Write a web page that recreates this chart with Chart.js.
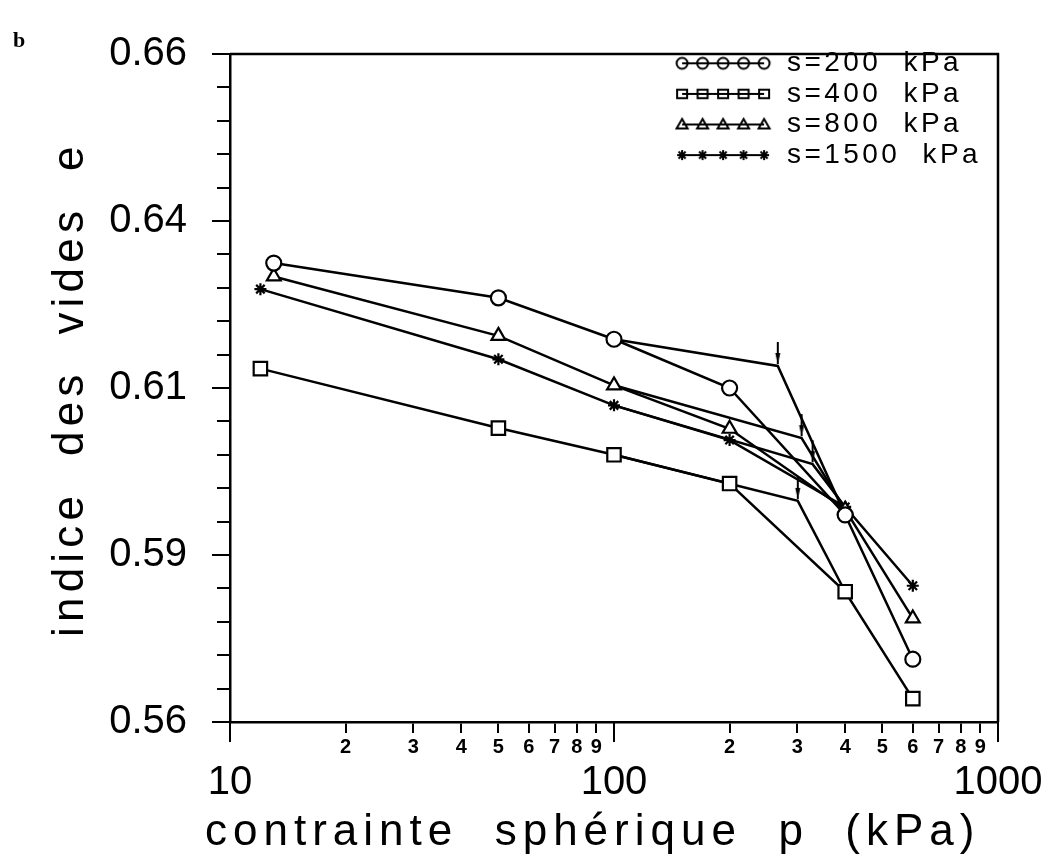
<!DOCTYPE html>
<html>
<head>
<meta charset="utf-8">
<script src="https://cdn.jsdelivr.net/npm/chart.js"></script>
<style>
  body { margin: 0; background: #fff; }
  canvas { display: block; }
</style>
</head>
<body>
<canvas id="myChart" width="1054" height="855"></canvas>
<script>
// values: p (kPa) and e for each suction s
var pS200 = [13, 50, 100, 200, 400, 600];
var eS200 = [0.6287, 0.6235, 0.6173, 0.6100, 0.5910, 0.5694];
var pS400 = [12, 50, 100, 200, 400, 600];
var eS400 = [0.6129, 0.6040, 0.6000, 0.5957, 0.5795, 0.5635];
var pS800 = [13, 50, 100, 200, 400, 600];
var eS800 = [0.6267, 0.6178, 0.6104, 0.6039, 0.5918, 0.5755];
var pS1500 = [12, 50, 100, 200, 400, 600];
var eS1500 = [0.6248, 0.6143, 0.6074, 0.6022, 0.5922, 0.5804];

// yield points (arrows), same order s=200, 400, 800, 1500
var yieldP = [267, 301, 308, 329];
var yieldE = [0.6133, 0.5931, 0.6025, 0.5986];

var seriesLabels = ['s=200  kPa', 's=400  kPa', 's=800  kPa', 's=1500  kPa'];
var seriesStyles = ['circle', 'rect', 'triangle', 'star'];

var yTickLabels = ['0.56', '0.59', '0.61', '0.64', '0.66'];
var yMajor = [0.56, 0.585, 0.61, 0.635, 0.66];
var xMajor = [10, 100, 1000];
var xDecadeLabels = ['10', '100', '1000'];
var xDigitLabels = ['2', '3', '4', '5', '6', '7', '8', '9'];
var xTitle = 'contrainte  sphérique  p  (kPa)';
var yTitle = 'indice  des  vides  e';

var pAll = [pS200, pS400, pS800, pS1500];
var eAll = [eS200, eS400, eS800, eS1500];
var markerSize = { circle: 7.5, rect: 9.5, triangle: 8, star: 6 };

function drawMark(g, style, x, y, r) {
  g.beginPath();
  if (style === 'circle') {
    g.arc(x, y, r, 0, 2 * Math.PI);
  } else if (style === 'rect') {
    g.rect(x - r, y - r * 0.85, 2 * r, 1.7 * r);
  } else if (style === 'triangle') {
    g.moveTo(x, y - r * 1.1);
    g.lineTo(x + r * 1.1, y + r * 0.8);
    g.lineTo(x - r * 1.1, y + r * 0.8);
    g.closePath();
  } else {
    for (var k = 0; k < 4; k++) {
      var a = k * Math.PI / 4;
      g.moveTo(x - r * Math.cos(a), y - r * Math.sin(a));
      g.lineTo(x + r * Math.cos(a), y + r * Math.sin(a));
    }
  }
  g.stroke();
}

// legend sample: short line with five markers
function makeSample(style) {
  var c = document.createElement('canvas');
  c.width = 100; c.height = 16;
  var g = c.getContext('2d');
  g.strokeStyle = '#000';
  g.lineWidth = 2;
  g.beginPath(); g.moveTo(9, 8); g.lineTo(91, 8); g.stroke();
  [9, 29.5, 50, 70.5, 91].forEach(function (x) { drawMark(g, style, x, 8, style === 'circle' ? 5.5 : 5); });
  return c;
}

// down arrow pointing at the yield point
function makeArrow() {
  var c = document.createElement('canvas');
  c.width = 12; c.height = 52;
  var g = c.getContext('2d');
  g.strokeStyle = '#000'; g.fillStyle = '#000'; g.lineWidth = 2;
  g.beginPath(); g.moveTo(6, 2); g.lineTo(6, 24); g.stroke();
  g.beginPath(); g.moveTo(3.5, 13); g.lineTo(8.5, 13); g.lineTo(6, 25); g.closePath(); g.fill();
  return c;
}
var arrowImg = makeArrow();
var samples = seriesStyles.map(makeSample);

var datasets = [];
for (var i = 0; i < 4; i++) {
  datasets.push({
    label: seriesLabels[i],
    data: pAll[i].map(function (p, k) { return { x: p, y: eAll[this][k] }; }, i),
    showLine: true,
    borderColor: '#000',
    borderWidth: 2.5,
    pointStyle: seriesStyles[i],
    pointRadius: markerSize[seriesStyles[i]],
    pointBorderWidth: 2.2,
    pointBorderColor: '#000',
    pointBackgroundColor: '#fff'
  });
}
for (var j = 0; j < 4; j++) {
  datasets.push({
    label: 'construction ' + seriesLabels[j],
    data: [
      { x: pAll[j][2], y: eAll[j][2] },
      { x: yieldP[j], y: yieldE[j] },
      { x: pAll[j][4], y: eAll[j][4] }
    ],
    showLine: true,
    borderColor: '#000',
    borderWidth: 2.5,
    pointStyle: ['circle', arrowImg, 'circle'],
    pointRadius: [0, 5, 0],
    pointBorderWidth: 0
  });
}

var decor = {
  id: 'decor',
  afterLayout: function (chart) {
    var lg = chart.legend;
    if (lg) { lg.left = 670.5; lg.top = 46.7; }
  },
  beforeDraw: function (chart) { chart.ctx.letterSpacing = '3.4px'; },
  beforeDatasetsDraw: function (chart) { chart.ctx.letterSpacing = '0px'; },
  afterDraw: function (chart) {
    var ctx = chart.ctx, a = chart.chartArea;
    var xs = chart.scales.x, ys = chart.scales.y;
    ctx.save();
    ctx.strokeStyle = '#000';
    ctx.lineWidth = 2.5;
    ctx.beginPath();
    ctx.moveTo(a.left, a.top); ctx.lineTo(a.right, a.top); ctx.lineTo(a.right, a.bottom);
    ctx.stroke();
    ctx.lineWidth = 2;
    ctx.beginPath();
    yMajor.forEach(function (v) {
      var py = ys.getPixelForValue(v);
      ctx.moveTo(a.left - 18, py); ctx.lineTo(a.left, py);
    });
    xMajor.forEach(function (v) {
      var px = xs.getPixelForValue(v);
      ctx.moveTo(px, a.bottom); ctx.lineTo(px, a.bottom + 20);
    });
    ctx.stroke();

    ctx.fillStyle = '#000';
    ctx.textAlign = 'left';
    ctx.textBaseline = 'alphabetic';
    ctx.font = '44px "Liberation Sans"';
    ctx.letterSpacing = '6px';
    ctx.fillText(xTitle, 205, 845);
    ctx.translate(83, 637);
    ctx.rotate(-Math.PI / 2);
    ctx.letterSpacing = '5.2px';
    ctx.fillText(yTitle, 0, 0);
    ctx.restore();

    ctx.save();
    ctx.letterSpacing = '0px';
    ctx.fillStyle = '#000';
    ctx.font = 'bold 22px "Liberation Serif"';
    ctx.fillText('b', 13, 47);
    ctx.restore();
  }
};

var ctx = document.getElementById('myChart').getContext('2d');
var myChart = new Chart(ctx, {
  type: 'scatter',
  data: { datasets: datasets },
  plugins: [decor],
  options: {
    responsive: false,
    animation: false,
    devicePixelRatio: 1,
    events: [],
    layout: { padding: { left: 0, top: 30, right: 56, bottom: 0 } },
    plugins: {
      tooltip: { enabled: false },
      legend: {
        position: 'chartArea',
        align: 'start',
        labels: {
          usePointStyle: true,
          pointStyleWidth: 100,
          padding: 2.6,
          color: '#000',
          font: { family: '"Liberation Sans"', size: 28 },
          filter: function (item) { return item.datasetIndex < 4; },
          generateLabels: function (chart) {
            return seriesLabels.map(function (t, k) {
              return {
                text: t, datasetIndex: k, pointStyle: samples[k],
                fillStyle: '#fff', strokeStyle: '#000', lineWidth: 0, hidden: false
              };
            });
          }
        }
      }
    },
    scales: {
      x: {
        type: 'logarithmic',
        min: 10,
        max: 1000,
        afterFit: function (s) { s.height = 133; },
        afterBuildTicks: function (s) {
          var t = [];
          [10, 100].forEach(function (d) {
            for (var k = 1; k <= 9; k++) t.push({ value: d * k });
          });
          t.push({ value: 1000 });
          s.ticks = t;
        },
        grid: { drawOnChartArea: false, tickLength: 11, color: '#000', lineWidth: 2 },
        border: { display: true, color: '#000', width: 2.5 },
        ticks: {
          z: 1,
          autoSkip: false,
          maxRotation: 0,
          minRotation: 0,
          padding: 0,
          color: '#000',
          font: function (c) {
            var v = c.tick ? c.tick.value : 10;
            var d = Math.round(v / Math.pow(10, Math.floor(Math.log10(v) + 1e-9)));
            if (d === 1) return { family: '"Liberation Sans"', size: 40, lineHeight: 2.475 };
            return { family: '"Liberation Sans"', size: 20, weight: 'bold', lineHeight: 1.45 };
          },
          callback: function (v) {
            var e = Math.floor(Math.log10(v) + 1e-9);
            var d = Math.round(v / Math.pow(10, e));
            if (d === 1) return xDecadeLabels[e - 1];
            return xDigitLabels[d - 2];
          }
        }
      },
      y: {
        min: 0.56,
        max: 0.66,
        afterFit: function (s) { s.width = 230; },
        afterBuildTicks: function (s) {
          var t = [];
          for (var k = 0; k <= 20; k++) t.push({ value: 0.56 + k * 0.005 });
          s.ticks = t;
        },
        grid: { drawOnChartArea: false, tickLength: 13, color: '#000', lineWidth: 2 },
        border: { display: true, color: '#000', width: 2.5 },
        ticks: {
          z: 1,
          autoSkip: false,
          padding: 30,
          color: '#000',
          font: { family: '"Liberation Sans"', size: 40 },
          callback: function (v, idx) { return idx % 5 === 0 ? yTickLabels[idx / 5] : ''; }
        }
      }
    }
  }
});
</script>
</body>
</html>
